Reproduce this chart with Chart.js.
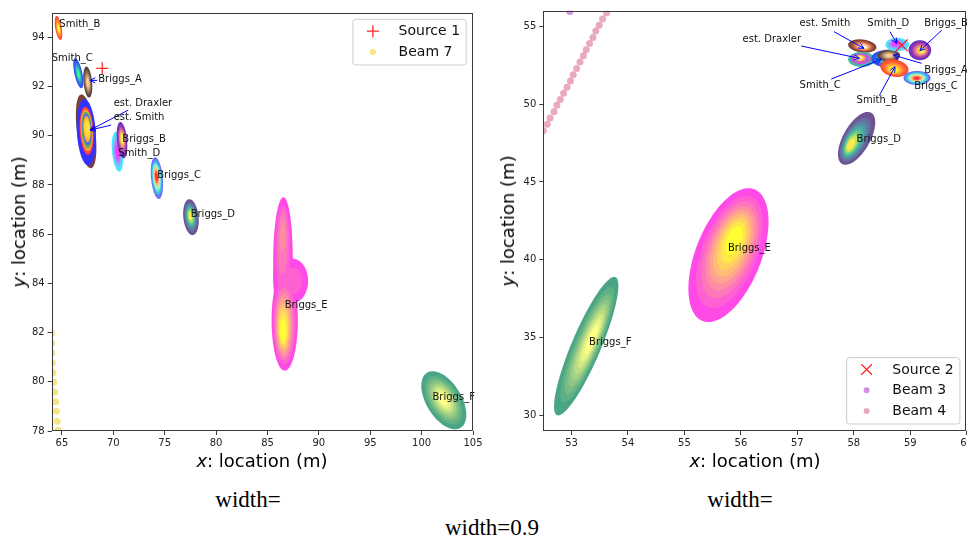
<!DOCTYPE html>
<html>
<head>
<meta charset="utf-8">
<script src="https://cdn.jsdelivr.net/npm/chart.js@4.4.0/dist/chart.umd.min.js"></script>
<style>
  html, body { margin: 0; padding: 0; background: #fff; width: 967px; height: 538px; overflow: hidden; position: relative; font-family: 'DejaVu Sans', sans-serif; }
  canvas { position: absolute; top: 0; }
  #left { left: 0; }
  #right { left: 480px; }
  .axis-title { position: absolute; white-space: nowrap; color: #000; font-size: 18px; line-height: 1; transform: translate(-50%, -50%); }
  .axis-title.vertical { transform: translate(-50%, -50%) rotate(-90deg); }
  .caption { position: absolute; white-space: nowrap; color: #000; font-family: 'Liberation Serif', 'Times New Roman', serif; font-size: 23px; line-height: 1; transform: translate(-50%, -50%); }
</style>
</head>
<body>
<canvas id="left" width="500" height="475"></canvas>
<canvas id="right" width="530" height="475"></canvas>

<div class="axis-title vertical" style="left:19px; top:222px;"><i>y</i>: location (m)</div>
<div class="axis-title" style="left:262px; top:461px;"><i>x</i>: location (m)</div>
<div class="axis-title vertical" style="left:508px; top:221px;"><i>y</i>: location (m)</div>
<div class="axis-title" style="left:755px; top:461px;"><i>x</i>: location (m)</div>
<div class="caption" style="left:248px; top:499px;">width=</div>
<div class="caption" style="left:740px; top:499px;">width=</div>
<div class="caption" style="left:492px; top:527px;">width=0.9</div>

<script>
// ---------------- Left panel data ----------------
// Density components: centre, outer half-extent, correlation, peak position, relative peak height
const leftBlobName  = ['Smith_B', 'Smith_C', 'Briggs_A', 'est. Smith', 'est. Draxler', 'Smith_D', 'Briggs_B', 'Briggs_C', 'Briggs_D', 'Briggs_E', 'Briggs_E', 'Briggs_E', 'Briggs_E', 'Briggs_F'];
const leftBlobX     = [64.66, 66.59, 67.51, 67.35, 67.37, 70.40, 70.84, 74.24, 77.55, 86.50, 86.60, 87.45, 86.68, 102.16];
const leftBlobY     = [94.38, 92.54, 92.18, 90.18, 90.14, 89.35, 89.82, 88.28, 86.69, 85.00, 84.20, 84.10, 82.50, 79.25];
const leftBlobHalfX = [0.37, 0.49, 0.44, 1.00, 0.94, 0.56, 0.52, 0.60, 0.76, 0.95, 1.05, 1.50, 1.28, 2.19];
const leftBlobHalfY = [0.49, 0.61, 0.63, 1.50, 1.35, 0.81, 0.74, 0.85, 0.73, 2.50, 1.40, 0.90, 2.05, 1.18];
const leftBlobRho   = [-0.5, -0.6, -0.3, -0.45, -0.2, -0.3, -0.3, -0.3, -0.2, 0.05, 0.0, 0.0, 0.0, -0.5];
const leftPeakX     = [64.68, 66.62, 67.52, 67.35, 67.48, 70.38, 70.86, 74.18, 77.50, 86.47, 86.60, 87.45, 86.47, 102.10];
const leftPeakY     = [94.35, 92.50, 92.15, 90.20, 90.35, 89.30, 89.90, 88.35, 86.75, 86.30, 84.20, 84.10, 82.00, 79.30];
const leftPeakLevel = [1, 1, 1, 1, 1, 1, 1, 1, 1, 0.45, 0.25, 0.3, 1, 1];

const leftNoteText = ['Smith_B', 'Smith_C', 'Briggs_A', 'est. Draxler', 'est. Smith', 'Briggs_B', 'Smith_D', 'Briggs_C', 'Briggs_D', 'Briggs_E', 'Briggs_F'];
const leftNoteX    = [64.74, 64.00, 68.53, 70.03, 70.03, 70.87, 70.48, 74.27, 77.52, 86.67, 101.06];
const leftNoteY    = [94.54, 93.13, 92.30, 91.32, 90.73, 89.85, 89.28, 88.40, 86.80, 83.12, 79.37];
const leftArrowFromX = [68.43, 71.45, 69.77];
const leftArrowFromY = [92.25, 91.04, 90.43];
const leftArrowToX   = [67.72, 67.73, 67.73];
const leftArrowToY   = [92.25, 90.23, 90.23];

const source1X = [68.92];
const source1Y = [92.74];
const beam7X = [63.99, 64.00, 64.02, 64.06, 64.13, 64.21, 64.29, 64.38, 64.46, 64.53, 64.62, 64.70];
const beam7Y = [81.97, 81.57, 81.17, 80.77, 80.37, 79.98, 79.58, 79.19, 78.80, 78.40, 78.03, 77.64];

const leftXTicks = { min: 64, max: 105, step: 5 };
const leftYTicks = { min: 78, max: 95, step: 2 };

// ---------------- Right panel data ----------------
const rightBlobName  = ['Briggs_F', 'Briggs_E', 'Briggs_D', 'est. Smith', 'est. Draxler', 'Smith_C', 'Briggs_A', 'Smith_B', 'Smith_D', 'Briggs_B', 'Briggs_C'];
const rightBlobX     = [53.26, 55.78, 58.05, 58.15, 58.14, 58.55, 58.62, 58.72, 58.77, 59.17, 59.12];
const rightBlobY     = [34.45, 40.30, 47.80, 53.73, 52.87, 52.92, 53.12, 52.31, 53.82, 53.46, 51.68];
const rightBlobHalfX = [0.57, 0.71, 0.33, 0.25, 0.24, 0.24, 0.20, 0.25, 0.21, 0.20, 0.24];
const rightBlobHalfY = [4.45, 4.30, 1.70, 0.43, 0.48, 0.53, 0.38, 0.57, 0.43, 0.64, 0.45];
const rightBlobRho   = [0.87, 0.5, 0.6, -0.2, 0.0, 0.0, 0.0, -0.2, 0.0, 0.0, 0.0];
const rightPeakX     = [53.38, 55.90, 57.92, 58.17, 58.08, 58.55, 58.62, 58.70, 58.73, 59.21, 59.11];
const rightPeakY     = [35.00, 41.48, 47.30, 53.67, 53.02, 52.90, 53.12, 52.17, 53.88, 53.45, 51.66];
const rightPeakLevel = [1, 1, 1, 1, 1, 1, 1, 1, 1, 1, 1];

const rightNoteText = ['est. Smith', 'Smith_D', 'Briggs_B', 'est. Draxler', 'Briggs_A', 'Smith_C', 'Smith_B', 'Briggs_C', 'Briggs_D', 'Briggs_E', 'Briggs_F'];
const rightNoteX    = [57.04, 58.24, 59.25, 56.03, 59.25, 57.04, 58.05, 59.07, 58.05, 55.77, 53.31];
const rightNoteY    = [55.19, 55.19, 55.19, 54.18, 52.19, 51.21, 50.22, 51.12, 47.74, 40.73, 34.66];
const rightArrowFromX = [57.65, 58.64, 59.56, 57.07, 59.20, 57.60, 58.45];
const rightArrowFromY = [54.65, 54.65, 54.76, 53.73, 52.62, 51.61, 50.54];
const rightArrowToX   = [58.18, 58.76, 59.17, 58.10, 58.70, 58.49, 58.73];
const rightArrowToY   = [53.58, 53.90, 53.43, 52.94, 53.15, 52.88, 52.40];

const source2X = [58.85];
const source2Y = [53.78];
const beam3X = [52.97, 53.03];
const beam3Y = [55.95, 56.35];
const beam4X = [52.44, 52.50, 52.57, 52.62, 52.69, 52.74, 52.80, 52.86, 52.92, 52.98, 53.03, 53.09, 53.15, 53.21, 53.26, 53.32, 53.38, 53.43, 53.49, 53.55, 53.62, 53.68];
const beam4Y = [47.89, 48.29, 48.70, 49.10, 49.51, 49.92, 50.30, 50.69, 51.09, 51.48, 51.88, 52.29, 52.70, 53.10, 53.49, 53.90, 54.28, 54.69, 55.07, 55.47, 55.86, 56.26];

const rightXTicks = { min: 52.5, max: 60, step: 1 };
const rightYTicks = { min: 29, max: 56, step: 5 };

// ---------------- Styling ----------------
const CMAPS = {
  autumn:  { stops: ['#ff0000', '#ffff00'] },
  winter:  { stops: ['#0000ff', '#00ff80'] },
  copper:  { stops: ['#000000', '#9f643f', '#ffc77f'] },
  cool:    { stops: ['#00ffff', '#ff00ff'] },
  spring:  { stops: ['#ff00ff', '#ffff00'] },
  summer:  { stops: ['#008066', '#ffff66'] },
  viridis: { stops: ['#440154', '#482878', '#3e4989', '#31688e', '#26828e', '#1f9e89', '#35b779', '#6ece58', '#b5de2b', '#fde725'] },
  plasma:  { stops: ['#0d0887', '#46039f', '#7201a8', '#9c179e', '#bd3786', '#d8576b', '#ed7953', '#fb9f3a', '#fdca26', '#f0f921'] },
  rainbow: { stops: ['#8000ff', '#00b4ec', '#80ffb4', '#ffb462', '#ff0000'] },
  heat:    { stops: ['#2a0a00', '#7a1a08', '#c8401a', '#f07a30', '#f8b878', '#fff4e0'] },
  ringsA:  { bands: ['#0000ff', '#0000ff', '#ff1010', '#ff8800', '#30a030', '#2040ff', '#ff9900', '#ffc000', '#ffe000'] },
  ringsB:  { bands: ['#10a890', '#10a890', '#e020d0', '#b030d0', '#8040c0', '#e05090', '#ff9040', '#ffd030', '#ffe860'] }
};
const leftBlobCmap  = ['autumn', 'winter', 'copper', 'heat', 'ringsA', 'cool', 'plasma', 'rainbow', 'viridis', 'spring', 'spring', 'spring', 'spring', 'summer'];
const rightBlobCmap = ['summer', 'spring', 'viridis', 'heat', 'ringsB', 'winter', 'copper', 'autumn', 'cool', 'plasma', 'rainbow'];

const LEVELS = [0.1, 0.2, 0.3, 0.4, 0.5, 0.6, 0.7, 0.8, 0.9];
const FILL_ALPHA = 0.8;
const TICK_COLOR = '#222';
const SPINE_COLOR = '#3a3a3a';

Chart.defaults.font.family = "'DejaVu Sans', sans-serif";
Chart.defaults.color = TICK_COLOR;

function hexToRgb(h) { const n = parseInt(h.slice(1), 16); return [(n >> 16) & 255, (n >> 8) & 255, n & 255]; }
function sampleStops(stops, v) {
  const n = stops.length - 1;
  const f = Math.min(Math.max(v, 0), 1) * n;
  const i = Math.min(Math.floor(f), n - 1);
  const t = f - i;
  const a = hexToRgb(stops[i]), b = hexToRgb(stops[i + 1]);
  return a.map((c, j) => c + (b[j] - c) * t);
}
function bandColor(name, k) {
  const m = CMAPS[name];
  const rgb = m.bands ? hexToRgb(m.bands[k]) : sampleStops(m.stops, (k + 1) / LEVELS.length);
  return 'rgb(' + rgb.map(c => Math.round(c * FILL_ALPHA + 255 * (1 - FILL_ALPHA))).join(',') + ')';
}
function pts(xs, ys) { return xs.map((x, i) => ({ x, y: ys[i] })); }

// Filled density contours: each level is an ellipse scaled from the outer one,
// drawn through the chart's own x / y scales.
const densityPlugin = {
  id: 'density',
  beforeDatasetsDraw(chart, args, o) {
    const { ctx, chartArea: a } = chart;
    const xs = chart.scales.x, ys = chart.scales.y;
    const b = o.blobs;
    ctx.save();
    ctx.beginPath(); ctx.rect(a.left, a.top, a.width, a.height); ctx.clip();
    let i = 0;
    while (i < b.name.length) {
      let j = i;
      while (j < b.name.length && b.name[j] === b.name[i]) j++;
      for (let k = 0; k < LEVELS.length; k++) {
        const t = LEVELS[k];
        ctx.fillStyle = bandColor(b.cmap[i], k);
        for (let c = i; c < j; c++) {
          const p = b.peak[c];
          if (p <= t) continue;
          const s = Math.sqrt(Math.log(p / t) / Math.log(p / LEVELS[0]));
          const cx = b.x[c] + (b.px[c] - b.x[c]) * (1 - s);
          const cy = b.y[c] + (b.py[c] - b.y[c]) * (1 - s);
          const r = b.rho[c], q = Math.sqrt(1 - r * r);
          ctx.beginPath();
          for (let n = 0; n <= 96; n++) {
            const th = n / 96 * Math.PI * 2, dx = Math.cos(th), dy = Math.sin(th);
            const X = xs.getPixelForValue(cx + s * b.hx[c] * dx);
            const Y = ys.getPixelForValue(cy + s * b.hy[c] * (r * dx + q * dy));
            if (n === 0) ctx.moveTo(X, Y); else ctx.lineTo(X, Y);
          }
          ctx.closePath();
          ctx.fill();
        }
      }
      i = j;
    }
    ctx.restore();
  }
};

// Name labels with blue pointer arrows
const notesPlugin = {
  id: 'notes',
  afterDatasetsDraw(chart, args, o) {
    const { ctx } = chart;
    const xs = chart.scales.x, ys = chart.scales.y;
    ctx.save();
    ctx.strokeStyle = '#0000ff';
    ctx.lineWidth = 1;
    o.arrows.fx.forEach((fx, i) => {
      const x1 = xs.getPixelForValue(fx), y1 = ys.getPixelForValue(o.arrows.fy[i]);
      const x2 = xs.getPixelForValue(o.arrows.tx[i]), y2 = ys.getPixelForValue(o.arrows.ty[i]);
      ctx.beginPath(); ctx.moveTo(x1, y1); ctx.lineTo(x2, y2); ctx.stroke();
      const ang = Math.atan2(y2 - y1, x2 - x1), L = 6, w = 0.45;
      ctx.beginPath();
      ctx.moveTo(x2 - L * Math.cos(ang - w), y2 - L * Math.sin(ang - w));
      ctx.lineTo(x2, y2);
      ctx.lineTo(x2 - L * Math.cos(ang + w), y2 - L * Math.sin(ang + w));
      ctx.stroke();
    });
    ctx.fillStyle = '#111';
    ctx.font = "10px 'DejaVu Sans'";
    ctx.textAlign = 'left';
    ctx.textBaseline = 'middle';
    o.text.forEach((s, i) => {
      ctx.fillText(s, xs.getPixelForValue(o.x[i]), ys.getPixelForValue(o.y[i]));
    });
    ctx.restore();
  }
};

// Axes frame and boxed legend inside the plotting area
const framePlugin = {
  id: 'frame',
  afterDraw(chart, args, o) {
    const { ctx, chartArea: a } = chart;
    ctx.save();
    ctx.strokeStyle = SPINE_COLOR;
    ctx.lineWidth = 1;
    ctx.strokeRect(Math.round(a.left) + 0.5, Math.round(a.top) + 0.5, Math.round(a.width) - 1, Math.round(a.height) - 1);

    const items = chart.data.datasets;
    const rowH = 20.7, boxW = 113.3, boxH = items.length * rowH + 4.3;
    const left = a.right - 6.8 - boxW;
    const top = o.corner === 'top' ? a.top + 6.6 : a.bottom - 7 - boxH;
    ctx.beginPath();
    ctx.roundRect(left, top, boxW, boxH, 3);
    ctx.fillStyle = 'rgba(255,255,255,0.8)';
    ctx.fill();
    ctx.strokeStyle = '#cccccc';
    ctx.stroke();
    items.forEach((ds, i) => {
      const cy = top + 11.9 + i * rowH;
      ctx.fillStyle = ds.backgroundColor;
      ctx.strokeStyle = ds.borderColor;
      ctx.lineWidth = ds.borderWidth;
      Chart.helpers.drawPoint(ctx, { pointStyle: ds.pointStyle, radius: ds.legendRadius, borderWidth: ds.borderWidth, rotation: 0 }, left + 20, cy);
      ctx.fillStyle = '#111';
      ctx.font = "14px 'DejaVu Sans'";
      ctx.textAlign = 'left';
      ctx.textBaseline = 'middle';
      ctx.fillText(ds.label, left + 45.7, cy + 0.5);
    });
    ctx.restore();
  }
};

function axis(t, isX, size) {
  return {
    type: 'linear',
    min: t.min,
    max: t.max,
    ticks: { stepSize: t.step, includeBounds: false, autoSkip: false, maxRotation: 0, color: TICK_COLOR, font: { size: 10 }, padding: isX ? 2 : 3 },
    grid: { drawOnChartArea: false, drawTicks: true, tickLength: 4, color: SPINE_COLOR },
    border: { display: false },
    afterFit(scale) {
      if (isX) scale.height = size; else scale.width = size;
    }
  };
}

function makeChart(id, datasets, blobs, notes, xt, yt, yWidth, padding, corner) {
  return new Chart(document.getElementById(id), {
    type: 'scatter',
    data: { datasets },
    options: {
      responsive: false,
      animation: false,
      devicePixelRatio: 1,
      events: [],
      layout: { padding },
      scales: { x: axis(xt, true, 44), y: axis(yt, false, yWidth) },
      plugins: {
        legend: { display: false },
        tooltip: { enabled: false },
        density: { blobs },
        notes,
        frame: { corner }
      }
    },
    plugins: [densityPlugin, notesPlugin, framePlugin]
  });
}

makeChart('left',
  [
    { label: 'Source 1', data: pts(source1X, source1Y), pointStyle: 'cross', pointRadius: 6, legendRadius: 6, borderColor: 'rgba(255,0,0,0.85)', backgroundColor: 'rgba(255,0,0,0.85)', borderWidth: 1.3, clip: 0 },
    { label: 'Beam 7', data: pts(beam7X, beam7Y), pointStyle: 'circle', pointRadius: 3.5, legendRadius: 3, borderColor: 'rgba(0,0,0,0)', backgroundColor: 'rgba(238,210,30,0.55)', borderWidth: 0, clip: 0 }
  ],
  { name: leftBlobName, x: leftBlobX, y: leftBlobY, hx: leftBlobHalfX, hy: leftBlobHalfY, rho: leftBlobRho, px: leftPeakX, py: leftPeakY, peak: leftPeakLevel, cmap: leftBlobCmap },
  { text: leftNoteText, x: leftNoteX, y: leftNoteY, arrows: { fx: leftArrowFromX, fy: leftArrowFromY, tx: leftArrowToX, ty: leftArrowToY } },
  leftXTicks, leftYTicks, 51.7, { left: 0, top: 12.7, right: 27, bottom: 0 }, 'top');

makeChart('right',
  [
    { label: 'Source 2', data: pts(source2X, source2Y), pointStyle: 'crossRot', pointRadius: 8.3, legendRadius: 7.5, borderColor: 'rgba(255,0,0,0.85)', backgroundColor: 'rgba(255,0,0,0.85)', borderWidth: 1.3, clip: 0 },
    { label: 'Beam 3', data: pts(beam3X, beam3Y), pointStyle: 'circle', pointRadius: 3.5, legendRadius: 3, borderColor: 'rgba(0,0,0,0)', backgroundColor: 'rgba(186,85,211,0.65)', borderWidth: 0, clip: 0 },
    { label: 'Beam 4', data: pts(beam4X, beam4Y), pointStyle: 'circle', pointRadius: 3.5, legendRadius: 3, borderColor: 'rgba(0,0,0,0)', backgroundColor: 'rgba(219,112,147,0.6)', borderWidth: 0, clip: 0 }
  ],
  { name: rightBlobName, x: rightBlobX, y: rightBlobY, hx: rightBlobHalfX, hy: rightBlobHalfY, rho: rightBlobRho, px: rightPeakX, py: rightPeakY, peak: rightPeakLevel, cmap: rightBlobCmap },
  { text: rightNoteText, x: rightNoteX, y: rightNoteY, arrows: { fx: rightArrowFromX, fy: rightArrowFromY, tx: rightArrowToX, ty: rightArrowToY } },
  rightXTicks, rightYTicks, 63.3, { left: 0, top: 10.7, right: 43.3, bottom: 0 }, 'bottom');
</script>
</body>
</html>
